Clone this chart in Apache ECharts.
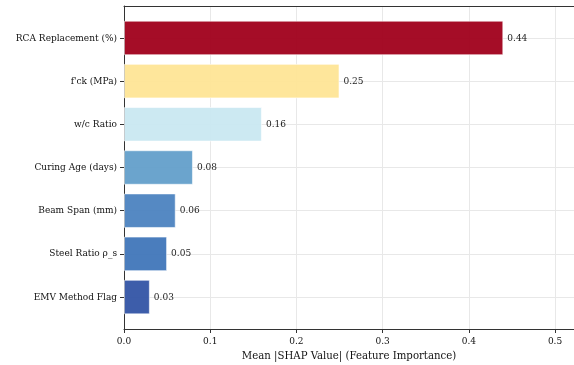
<!DOCTYPE html>
<html>
<head>
<meta charset="utf-8">
<script src="https://cdn.jsdelivr.net/npm/echarts@6/dist/echarts.min.js"></script>
<style>
  html, body { margin: 0; padding: 0; background: #fff; }
  #chart { width: 574px; height: 365px; }
</style>
</head>
<body>
<div id="chart"></div>
<script>
// Feature names, top to bottom
const features = [
  'RCA Replacement (%)',
  "f'ck (MPa)",
  'w/c Ratio',
  'Curing Age (days)',
  'Beam Span (mm)',
  'Steel Ratio ρ_s',
  'EMV Method Flag'
];
// Mean |SHAP| per feature
const importance = [0.44, 0.25, 0.16, 0.08, 0.06, 0.05, 0.03];
// Bar colours per feature
const barColors = ['#a0001b', '#fee596', '#c9e8f1', '#639fca', '#4c83c0', '#4076b9', '#3354a5'];
// X tick values
const xTicks = [0, 0.1, 0.2, 0.3, 0.4, 0.5];

const xMax = 0.522;
const yMin = -0.74, yMax = features.length - 1 + 0.74;
const frameTop = 6, frameBottom = 36, left = 124, right = 0;
const frameH = 365 - frameTop - frameBottom;
const unit = frameH / (yMax - yMin);

const font = "'DejaVu Serif Condensed', 'DejaVu Serif', serif";
const textColor = '#111';
const chart = echarts.init(document.getElementById('chart'), null, { renderer: 'canvas' });

chart.setOption({
  animation: false,
  textStyle: { fontFamily: font },
  grid: [
    { left: left, right: right, top: frameTop, bottom: frameBottom, containLabel: false, outerBoundsMode: 'none' },
    { left: left, right: right, top: frameTop + (0 - yMin - 0.5) * unit, height: features.length * unit,
      containLabel: false, outerBoundsMode: 'none' }
  ],
  xAxis: [
    {
      gridIndex: 0, type: 'value', min: 0, max: xMax,
      name: 'Mean |SHAP Value| (Feature Importance)',
      nameLocation: 'middle', nameGap: 22,
      nameTextStyle: { fontFamily: font, fontSize: 11.3, color: textColor },
      axisLine: { show: true, onZero: false, lineStyle: { color: '#333', width: 1 } },
      axisTick: { show: true, length: 4, lineStyle: { color: '#333' }, customValues: xTicks },
      axisLabel: { fontFamily: font, fontSize: 10, color: textColor, margin: 7, customValues: xTicks,
        formatter: v => v.toFixed(1) },
      splitLine: { show: true, lineStyle: { color: '#e8e8e8', width: 1 } }
    },
    {
      gridIndex: 1, type: 'value', min: 0, max: xMax,
      axisLine: { show: false, onZero: false }, axisTick: { show: false }, axisLabel: { show: false }, splitLine: { show: false }
    },
    {
      // top spine
      gridIndex: 0, type: 'value', position: 'top', min: 0, max: xMax,
      axisLine: { show: true, onZero: false, lineStyle: { color: '#333', width: 1 } },
      axisTick: { show: false }, axisLabel: { show: false }, splitLine: { show: false }
    }
  ],
  yAxis: [
    {
      gridIndex: 0, type: 'value', min: yMin, max: yMax, inverse: true,
      axisLine: { show: true, onZero: false, lineStyle: { color: '#333', width: 1 } },
      axisTick: { show: true, length: 4, lineStyle: { color: '#333' }, customValues: features.map((_, i) => i) },
      axisLabel: { fontFamily: font, fontSize: 10, color: textColor, margin: 7,
        customValues: features.map((_, i) => i),
        formatter: v => features[Math.round(v)] },
      splitLine: { show: true, lineStyle: { color: '#e8e8e8', width: 1 } }
    },
    {
      gridIndex: 1, type: 'category', data: features, inverse: true,
      axisLine: { show: false }, axisTick: { show: false }, axisLabel: { show: false }, splitLine: { show: false }
    }
  ],
  series: [{
    type: 'bar',
    xAxisIndex: 1, yAxisIndex: 1,
    barWidth: '80%',
    data: importance.map((v, i) => ({
      value: v,
      itemStyle: { color: barColors[i], opacity: 0.95, borderColor: 'rgba(255,255,255,0.6)', borderWidth: 1 }
    })),
    label: {
      show: true, position: 'right', distance: 4,
      fontFamily: font, fontSize: 10, color: textColor,
      formatter: p => p.value.toFixed(2)
    }
  }]
});
</script>
</body>
</html>
